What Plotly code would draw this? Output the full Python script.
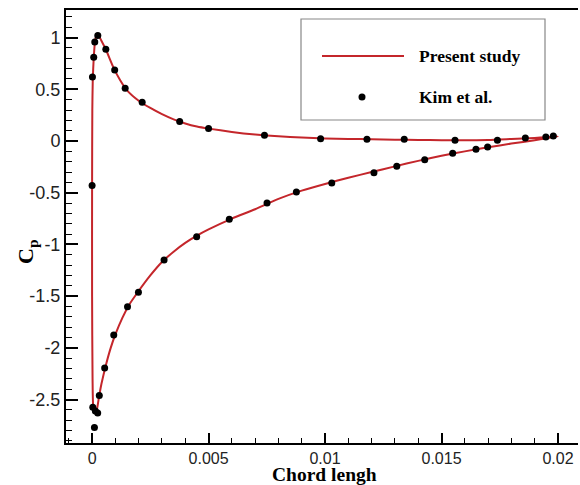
import plotly.graph_objects as go

# ---- data ----
series_names = ["Present study", "Kim et al."]

# Present study (continuous curve: upper branch TE->LE, then lower branch LE->TE)
present_x = [0.0200, 0.0195, 0.0190, 0.0180, 0.0170, 0.0160, 0.0150, 0.0140, 0.0130,
             0.0120, 0.0110, 0.0100, 0.0090, 0.0080, 0.0070, 0.0060, 0.0050, 0.0045,
             0.0040, 0.0035, 0.0030, 0.0025, 0.0020, 0.0015, 0.0012, 0.0009, 0.0006,
             0.0004, 0.00025, 0.00018, 0.00012, 0.00007, 0.00003, 0.00001, 0.0,
             0.0, 0.00002, 0.00005, 0.00012, 0.0002, 0.0003, 0.0004, 0.0006, 0.0008,
             0.0010, 0.0013, 0.0016, 0.0020, 0.0025, 0.0030, 0.0035, 0.0040, 0.0045,
             0.0050, 0.0060, 0.0070, 0.0080, 0.0090, 0.0100, 0.0110, 0.0120, 0.0130,
             0.0140, 0.0150, 0.0160, 0.0170, 0.0180, 0.0190, 0.0200]
present_cp = [0.045, 0.037, 0.030, 0.020, 0.010, 0.007, 0.008, 0.010, 0.013,
              0.017, 0.020, 0.025, 0.033, 0.045, 0.063, 0.088, 0.120, 0.140,
              0.170, 0.210, 0.260, 0.320, 0.390, 0.490, 0.590, 0.720, 0.880,
              0.970, 1.030, 1.020, 0.950, 0.800, 0.600, 0.300, -0.400,
              -1.500, -2.300, -2.570, -2.630, -2.600, -2.470, -2.350, -2.160, -2.000,
              -1.870, -1.710, -1.580, -1.450, -1.300, -1.170, -1.070, -0.985, -0.915,
              -0.855, -0.750, -0.660, -0.560, -0.480, -0.415, -0.355, -0.300, -0.245,
              -0.192, -0.143, -0.100, -0.060, -0.025, 0.008, 0.045]

# Kim et al. (markers)
kim_x = [0.0, 0.000015, 0.00007, 0.000115, 0.000245, 0.00059, 0.00097, 0.00142,
         0.00215, 0.00376, 0.0050, 0.0074, 0.00981, 0.0118, 0.0134, 0.01558,
         0.0174, 0.0186, 0.01948, 0.0198,
         0.00003, 0.00014, 0.00024, 0.0001, 0.00031, 0.00054, 0.00093, 0.00152,
         0.00199, 0.00309, 0.00449, 0.00589, 0.00751, 0.00877, 0.01029, 0.0121,
         0.01308, 0.01428, 0.01548, 0.01648, 0.01698]
kim_cp = [-0.43, 0.62, 0.81, 0.957, 1.02, 0.887, 0.687, 0.51,
          0.374, 0.19, 0.12, 0.055, 0.022, 0.016, 0.016, 0.007,
          0.007, 0.029, 0.039, 0.048,
          -2.575, -2.61, -2.63, -2.77, -2.46, -2.195, -1.876, -1.602,
          -1.463, -1.151, -0.926, -0.757, -0.60, -0.493, -0.406, -0.306,
          -0.245, -0.18, -0.119, -0.08, -0.058]

x_tickvals = [0, 0.005, 0.01, 0.015, 0.02]
x_ticktext = ["0", "0.005", "0.01", "0.015", "0.02"]
y_tickvals = [1, 0.5, 0, -0.5, -1, -1.5, -2, -2.5]
y_ticktext = ["1", "0.5", "0", "-0.5", "-1", "-1.5", "-2", "-2.5"]
x_title = "Chord lengh"
y_title = "C<sub>p</sub>"

RED = "#C4262B"
SERIF = "Liberation Serif, Times New Roman, serif"
SANS = "Liberation Sans, Arial, sans-serif"

fig = go.Figure()
fig.add_trace(go.Scatter(x=present_x, y=present_cp, mode="lines", name=series_names[0],
                         line=dict(color=RED, width=2, shape="spline", smoothing=0.6),
                         showlegend=False))
fig.add_trace(go.Scatter(x=kim_x, y=kim_cp, mode="markers", name=series_names[1],
                         marker=dict(color="black", size=7), showlegend=False))

W, H = 580, 485
L, R, T, B = 66, 2, 10, 42
pw, ph = W - L - R, H - T - B


def px(x):
    return (x - L) / pw


def py(y):
    return (H - B - y) / ph


shapes = [
    dict(type="rect", xref="paper", yref="paper", x0=px(301), x1=px(545), y0=py(120), y1=py(19),
         line=dict(color="#888888", width=1.2), fillcolor="white", layer="above"),
    dict(type="line", xref="paper", yref="paper", x0=px(322), x1=px(404), y0=py(56), y1=py(56),
         line=dict(color=RED, width=2), layer="above"),
    dict(type="circle", xref="paper", yref="paper", x0=px(358.5), x1=px(365.5), y0=py(100.5), y1=py(93.5),
         line=dict(color="black", width=0), fillcolor="black", layer="above"),
]
annotations = [
    dict(xref="paper", yref="paper", x=px(417), y=py(56), xanchor="left", yanchor="middle",
         text="<b>%s</b>" % series_names[0], showarrow=False,
         font=dict(family=SERIF, size=17.5, color="black")),
    dict(xref="paper", yref="paper", x=px(417), y=py(97), xanchor="left", yanchor="middle",
         text="<b>%s</b>" % series_names[1], showarrow=False,
         font=dict(family=SERIF, size=17.5, color="black")),
    dict(xref="paper", yref="paper", x=px(324), y=py(487), xanchor="center", yanchor="bottom",
         text="<b>%s</b>" % x_title, showarrow=False,
         font=dict(family=SERIF, size=19.5, color="black")),
    dict(xref="paper", yref="paper", x=px(27), y=py(252), xanchor="center", yanchor="middle",
         text="<b>%s</b>" % y_title, showarrow=False, textangle=-90,
         font=dict(family=SERIF, size=22, color="black")),
]

fig.update_layout(
    width=W, height=H, margin=dict(l=L, r=R, t=T, b=B),
    paper_bgcolor="white", plot_bgcolor="white",
    shapes=shapes, annotations=annotations,
    xaxis=dict(range=[-0.00112, 0.02086], tickvals=x_tickvals, ticktext=x_ticktext,
               showgrid=False, zeroline=False, showline=True, linecolor="black", linewidth=2,
               mirror=True, ticks="inside", ticklen=10, tickwidth=2, tickcolor="black",
               minor=dict(dtick=0.001, tick0=0, ticks="inside", ticklen=5, tickwidth=1, tickcolor="black"),
               tickfont=dict(family=SANS, size=16, color="#222222")),
    yaxis=dict(range=[-2.92, 1.267], tickvals=y_tickvals, ticktext=y_ticktext,
               showgrid=False, zeroline=False, showline=True, linecolor="black", linewidth=2,
               mirror=False, ticks="inside", ticklen=12, tickwidth=2, tickcolor="black",
               minor=dict(dtick=0.1, tick0=0, ticks="inside", ticklen=6, tickwidth=1, tickcolor="black"),
               tickfont=dict(family=SANS, size=18, color="#222222")),
)

fig.write_html("out.html")
